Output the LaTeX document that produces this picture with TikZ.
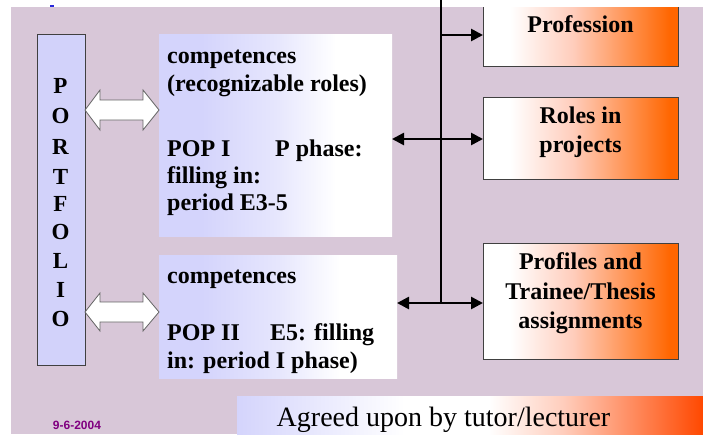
\documentclass[tikz,border=0pt]{standalone}
\usepackage{fontspec}
\setmainfont{Liberation Serif}
\newfontfamily\datefont{Liberation Sans}
\usetikzlibrary{arrows.meta,calc}
\definecolor{mauve}{RGB}{216,199,216}
\definecolor{lav}{RGB}{212,212,252}
\definecolor{lavmid}{RGB}{230,230,253}
\definecolor{portlav}{RGB}{210,210,250}
\definecolor{peach}{RGB}{255,205,188}
\definecolor{orng}{RGB}{255,102,0}
\definecolor{redorng}{RGB}{255,72,0}
\definecolor{bordergray}{RGB}{64,64,64}
\definecolor{arrowgray}{RGB}{100,100,100}
\definecolor{datepurple}{RGB}{128,0,128}
\definecolor{markblue}{RGB}{40,40,220}
\pgfdeclarehorizontalshading{lavwhite}{100bp}{color(0bp)=(lav); color(25bp)=(lav); color(34bp)=(lav); color(50bp)=(lavmid); color(63bp)=(white); color(100bp)=(white)}
\pgfdeclarehorizontalshading{whiteorange}{100bp}{color(0bp)=(white); color(32bp)=(white); color(48bp)=(peach); color(73bp)=(orng); color(100bp)=(orng)}
\pgfdeclarehorizontalshading{barshade}{100bp}{color(0bp)=(lav); color(25bp)=(lav); color(43bp)=(white); color(52bp)=(white); color(60bp)=(peach); color(75bp)=(redorng); color(100bp)=(redorng)}
\tikzset{
  leftbox/.style={shading=lavwhite, inner sep=0pt, outer sep=0pt},
  rightbox/.style={shading=whiteorange, draw=bordergray, line width=0.9pt, inner sep=0pt, outer sep=0pt},
  portbox/.style={fill=portlav, draw=bordergray, line width=0.9pt, inner sep=0pt, outer sep=0pt},
  boxtext/.style={font=\fontsize{24}{28}\selectfont\bfseries, inner sep=0pt, anchor=base west},
  ctext/.style={font=\fontsize{24}{28}\selectfont\bfseries, inner sep=0pt, anchor=base},
  lettertext/.style={font=\fontsize{23}{26}\selectfont\bfseries, inner sep=0pt, anchor=base},
  conn/.style={line width=2.6pt, black},
  arr/.style={conn, -{Triangle[length=12pt,width=12pt]}},
  darr/.style={conn, {Triangle[length=12pt,width=12pt]}-{Triangle[length=12pt,width=12pt]}},
  hollow/.style={fill=white, draw=arrowgray, line width=0.8pt, line join=miter}
}
\begin{document}
\begin{tikzpicture}[x=1pt,y=-1pt]
\useasboundingbox (0,0) rectangle (703,434);
\fill[white] (0,0) rectangle (703,434);
\fill[mauve] (11,7) rectangle (703,434);
\fill[markblue] (50,5) rectangle (54,7);

% portfolio
\node[portbox, minimum width=48pt, minimum height=331pt] (port) at (61,199.5) {};
\foreach \l/\y [count=\i] in {P/93, O/123, R/154, T/184, F/211, O/239, L/268, I/297, O/326}
  \node[lettertext] (let\i) at (60.5,\y) {\l};

% left boxes
\node[leftbox, minimum width=233pt, minimum height=202pt] (b1) at (275.5,135) {};
\node[leftbox, minimum width=238pt, minimum height=123pt] (b2) at (278,316.5) {};

\node[boxtext] (b1l1) at (167,63) {competences};
\node[boxtext] (b1l2) at (167,91) {(recognizable roles)};
\node[boxtext] (b1l3) at (167,156) {POP I};
\node[boxtext] (b1l3b) at (275,156) {P phase:};
\node[boxtext] (b1l4) at (167,183) {filling in:};
\node[boxtext] (b1l5) at (167,210) {period E3-5};

\node[boxtext] (b2l1) at (167,283) {competences};
\node[boxtext] (b2l2) at (167,340) {POP II};
\node[boxtext] (b2l2b) at (270,340) {E5: filling};
\node[boxtext] (b2l3) at (167,368) {in: period I phase)};

% right boxes
\node[shading=whiteorange, inner sep=0pt, outer sep=0pt, minimum width=195pt, minimum height=59pt] (pb) at (580.5,36.5) {};
\draw[draw=bordergray, line width=0.9pt] (pb.north west) -- (pb.south west) -- (pb.south east) -- (pb.north east);
\node[rightbox, minimum width=195pt, minimum height=82pt] (rb) at (580.5,138) {};
\node[rightbox, minimum width=195pt, minimum height=116pt] (fb) at (580.5,301) {};

\node[ctext] (pt1) at (580.5,32) {Profession};
\node[ctext] (rt1) at (580.5,123) {Roles in};
\node[ctext] (rt2) at (580.5,152) {projects};
\node[ctext] (ft1) at (580.5,269) {Profiles and};
\node[ctext] (ft2) at (580.5,299) {Trainee/Thesis};
\node[ctext] (ft3) at (580.5,328) {assignments};

% connectors
\coordinate (vtop) at (441,0);
\coordinate (vbot) at (vtop |- 0,303);
\draw[conn] (vtop) -- (vbot);
\draw[arr] (vtop |- 0,35) -- (pb.west |- 0,35);
\draw[darr] (b1.east |- 0,139) -- (rb.west |- 0,139);
\draw[darr] (b2.east |- 0,303) -- (fb.west |- 0,303);

% hollow double arrows
\coordinate (a1l) at (port.east |- 0,110);
\coordinate (a1r) at (b1.west |- 0,110);
\draw[hollow] (a1l) -- ++(15,-20) -- ++(0,10) -- ($(a1r)+(-16,-10)$) -- ++(0,-10) -- (a1r) -- ++(-16,20) -- ++(0,-10) -- ($(a1l)+(15,10)$) -- ++(0,10) -- cycle;
\coordinate (a2l) at (port.east |- 0,312);
\coordinate (a2r) at (b2.west |- 0,312);
\draw[hollow] (a2l) -- ++(15,-19) -- ++(0,9) -- ($(a2r)+(-16,-10)$) -- ++(0,-9) -- (a2r) -- ++(-16,19) -- ++(0,-9) -- ($(a2l)+(15,10)$) -- ++(0,9) -- cycle;

% bottom bar
\node[shading=barshade, inner sep=0pt, outer sep=0pt, minimum width=466pt, minimum height=38pt] (bar) at (470,415) {};
\node[font=\fontsize{28}{32}\selectfont, inner sep=0pt, anchor=base] (bartext) at (443.5,426) {Agreed upon by tutor/lecturer};

\node[font=\datefont\fontsize{12}{14}\selectfont\bfseries, text=datepurple, inner sep=0pt] (date) at (77,425) {9-6-2004};
\end{tikzpicture}
\end{document}
